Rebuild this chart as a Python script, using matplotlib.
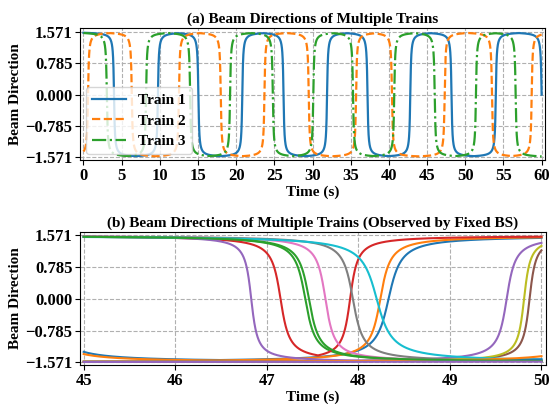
""" Beam directions of multiple trains:
    (a) as seen by each train, (b) as seen by one fixed BS"""

import numpy as np
import matplotlib
matplotlib.use('Agg')
from matplotlib import pyplot as plt

# (a) times (s) where each train's beam flips, and sign of the first flip
TRAIN_NAMES = ['Train 1', 'Train 2', 'Train 3']
TRAIN_FLIPS = [
    [4.0, 9.75, 15.05, 20.8, 26.2, 31.9, 37.2, 42.8, 48.2, 54.0, 60.0],
    [0.6, 6.33, 12.5, 17.98, 23.7, 29.5, 35.7, 40.4, 47.3, 53.5, 58.7],
    [3.06, 8.2, 13.97, 19.2, 24.8, 30.1, 35.3, 40.7, 46.0, 51.4, 56.6],
]
TRAIN_FIRST_DIR = [-1, 1, -1]
TRAIN_WIDTH = 0.09

# (b) passes seen by the fixed BS: colour, flip times, directions, widths
BS_COLORS = ['C0', 'C1', 'C2', 'C3', 'C4', 'C5', 'C6', 'C7', 'C8', 'C9',
             'C0', 'C1', 'C2', 'C4']
BS_FLIPS = [[44.62, 48.33], [44.61, 48.24], [47.42], [47.15, 47.91],
            [46.83, 49.62], [49.87], [47.64], [47.94], [49.81], [48.2],
            [51.4], [50.53], [47.46], [53.5]]
BS_DIRS = [[-1, 1], [-1, 1], [-1], [-1, 1], [-1, 1], [1], [-1], [-1], [1], [-1],
           [1], [1], [-1], [1]]
BS_WIDTHS = [[0.1, 0.1], [0.08, 0.08], [0.08], [0.07, 0.06], [0.05, 0.07],
             [0.05], [0.07], [0.08], [0.05], [0.12],
             [0.1], [0.08], [0.08], [0.05]]

YTICKS = [-1.571, -0.785, 0.0, 0.785, 1.571]


def beam(t, flips, dirs, widths):
    """ Beam angle built from the nearest flip (arctan shaped turn). """
    flips = np.asarray(flips)[:, None]
    dirs = np.asarray(dirs)[:, None]
    widths = np.asarray(widths)[:, None]
    scaled = (t[None, :] - flips) / widths
    k = np.argmin(np.abs(scaled), axis=0)
    idx = np.arange(t.size)
    return dirs[k, 0] * np.arctan(scaled[k, idx])


def style_axes(ax, xlim, xticks, title):
    ax.set_xlim(xlim)
    ax.set_ylim(-1.645, 1.66)
    ax.set_xticks(xticks)
    ax.set_yticks(YTICKS)
    ax.set_yticklabels([('%.3f' % v).replace('-', '\u2212') for v in YTICKS])
    ax.grid(True, linestyle='--', color='#b0b0b0', linewidth=0.8)
    ax.set_title(title, fontweight='bold', fontsize=11, pad=4)
    ax.set_xlabel('Time (s)', fontweight='bold', fontsize=11, labelpad=1)
    ax.set_ylabel('Beam Direction', fontweight='bold', fontsize=11, labelpad=2)
    for lab in ax.get_xticklabels() + ax.get_yticklabels():
        lab.set_fontweight('bold')
    ax.tick_params(labelsize=12, pad=2, length=3.5)


def main():
    plt.rcParams['font.family'] = ['Liberation Serif', 'DejaVu Serif']

    fig = plt.figure(figsize=(5.5, 4.04), dpi=100)
    ax1 = fig.add_axes([0.1455, 0.603, 0.8455, 0.327])
    ax2 = fig.add_axes([0.1455, 0.096, 0.8473, 0.330])

    # (a) beam direction of each train over one minute
    t = np.linspace(0, 60, 6001)
    styles = ['-', '--', '-.']
    for name, flips, d0, ls in zip(TRAIN_NAMES, TRAIN_FLIPS, TRAIN_FIRST_DIR, styles):
        dirs = [d0 * (-1) ** i for i in range(len(flips))]
        ax1.plot(t, beam(t, flips, dirs, [TRAIN_WIDTH] * len(flips)),
                 linestyle=ls, linewidth=1.6, label=name)
    style_axes(ax1, (-0.45, 60.45), np.arange(0, 61, 5),
               '(a) Beam Directions of Multiple Trains')
    ax1.legend(loc='lower left', prop={'weight': 'bold', 'size': 11},
               handlelength=2.2, borderaxespad=0.4, labelspacing=0.45,
               fancybox=True, framealpha=0.8)

    # (b) every train pass seen from the fixed BS
    tb = np.linspace(45, 50, 5001)
    for color, flips, dirs, widths in zip(BS_COLORS, BS_FLIPS, BS_DIRS, BS_WIDTHS):
        ax2.plot(tb, beam(tb, flips, dirs, widths), color=color, linewidth=1.5)
    style_axes(ax2, (44.96, 50.05), np.arange(45, 51, 1),
               '(b) Beam Directions of Multiple Trains (Observed by Fixed BS)')

    fig.savefig('out.png', dpi=100)


if __name__ == '__main__':
    main()
